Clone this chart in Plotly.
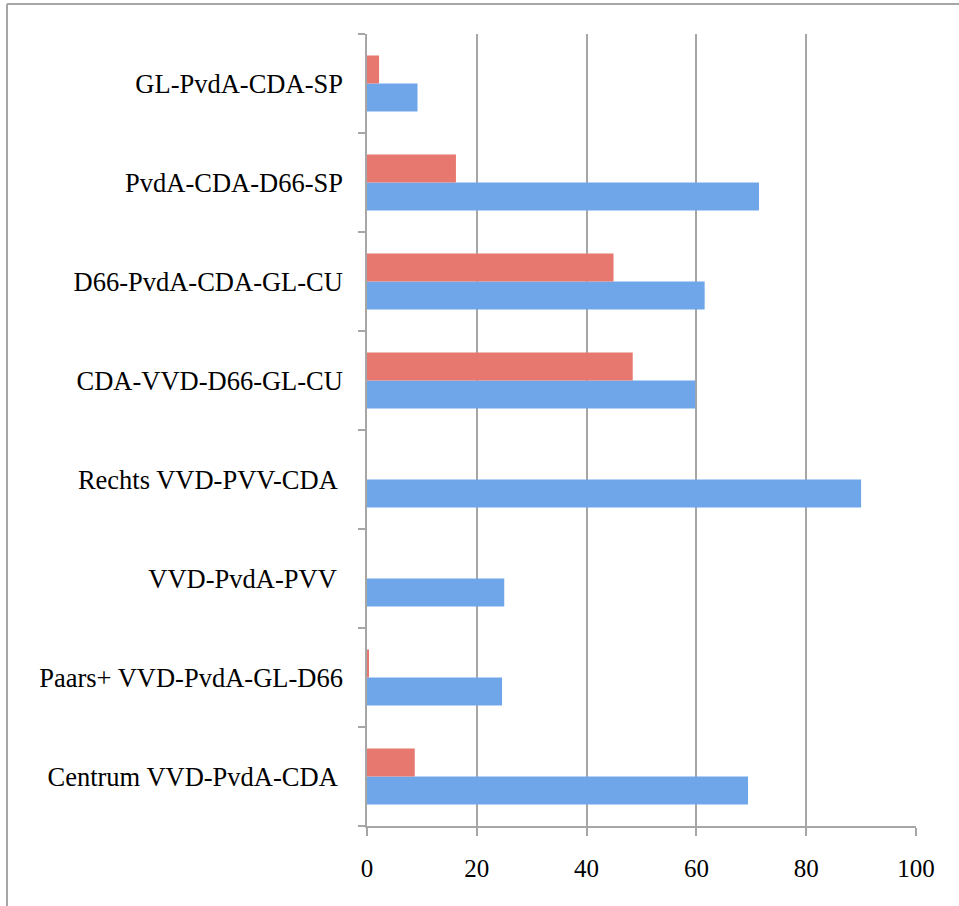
import plotly.graph_objects as go

categories = [
    "Centrum VVD-PvdA-CDA ",
    "Paars+ VVD-PvdA-GL-D66",
    "VVD-PvdA-PVV ",
    "Rechts VVD-PVV-CDA ",
    "CDA-VVD-D66-GL-CU",
    "D66-PvdA-CDA-GL-CU",
    "PvdA-CDA-D66-SP",
    "GL-PvdA-CDA-SP",
]
blue_values = [69.4, 24.6, 25.0, 90.0, 59.8, 61.5, 71.4, 9.2]
red_values = [8.7, 0.3, 0, 0, 48.4, 44.9, 16.2, 2.2]
x_ticks = [0, 20, 40, 60, 80, 100]

W, H = 959, 906
L, R, T, B = 367, 43, 34, 80
pw, ph = W - L - R, H - T - B

fig = go.Figure()
fig.add_trace(go.Bar(
    y=categories, x=blue_values, orientation="h",
    marker=dict(color="#6fa6ea", line=dict(width=0)),
    showlegend=False,
))
fig.add_trace(go.Bar(
    y=categories, x=red_values, orientation="h",
    marker=dict(color="#e7786f", line=dict(width=0)),
    showlegend=False,
))

font = dict(family="Liberation Serif, Times New Roman, serif", size=26.5, color="#000000")

fig.update_layout(
    width=W, height=H,
    margin=dict(l=L, r=R, t=T, b=B, pad=0),
    paper_bgcolor="white", plot_bgcolor="white",
    barmode="group", bargap=0.434, bargroupgap=0,
    font=font,
    xaxis=dict(
        range=[0, 100], tickvals=x_ticks, ticktext=[str(v) for v in x_ticks],
        showgrid=True, gridcolor="#a6a6a6", gridwidth=1.5,
        showline=True, linecolor="#a6a6a6", linewidth=1.5,
        ticks="outside", ticklen=8, tickcolor="#a6a6a6", tickwidth=1.5,
        ticklabelstandoff=11, zeroline=False,
        tickfont=dict(family=font["family"], size=25, color="#000000"),
    ),
    yaxis=dict(
        type="category", categoryorder="array", categoryarray=categories,
        tickson="boundaries",
        showgrid=False,
        showline=True, linecolor="#a6a6a6", linewidth=1.5,
        ticks="outside", ticklen=7, tickcolor="#a6a6a6", tickwidth=1.5,
        ticklabelstandoff=17, tickfont=font,
    ),
    shapes=[
        dict(type="line", xref="paper", yref="paper",
             x0=(7 - L) / pw, x1=(W + 5 - L) / pw,
             y0=1 + (T - 4) / ph, y1=1 + (T - 4) / ph,
             line=dict(color="#a6a6a6", width=2)),
        dict(type="line", xref="paper", yref="paper",
             x0=(7 - L) / pw, x1=(7 - L) / pw,
             y0=1 + (T - 4) / ph, y1=-(B + 5) / ph,
             line=dict(color="#a6a6a6", width=2)),
    ],
)

fig.write_html("out.html", config={"displayModeBar": False},
               post_script="document.body.style.margin='0';")
